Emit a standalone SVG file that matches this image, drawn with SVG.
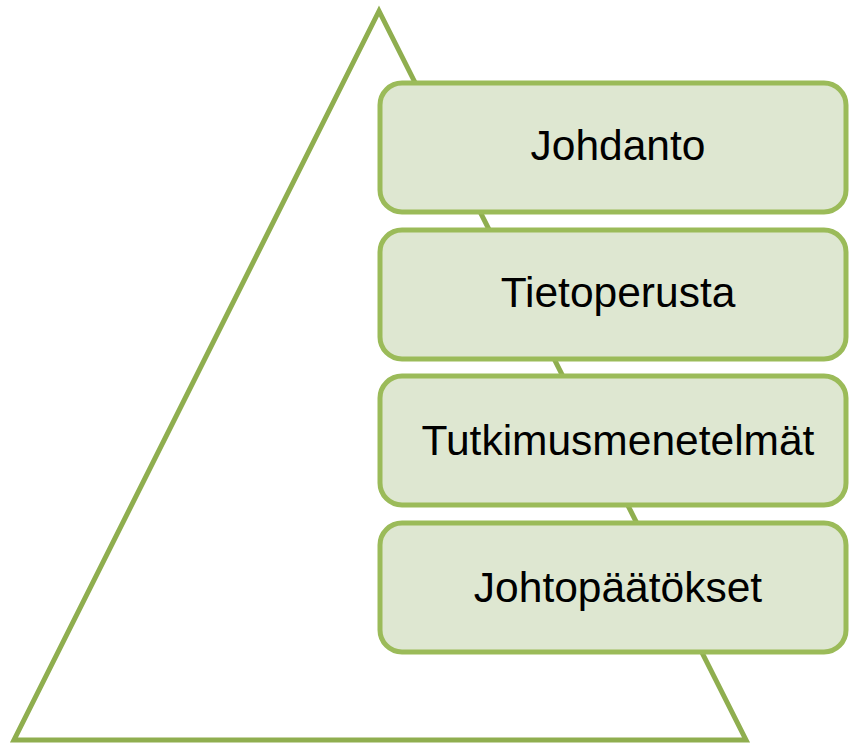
<svg xmlns="http://www.w3.org/2000/svg" width="849" height="744" viewBox="0 0 849 744">
  <style>
    .tri { fill: none; stroke: #8fae4f; stroke-width: 5; stroke-linejoin: miter; }
    .box { fill: #dee7d1; stroke: #9bbb59; stroke-width: 5; }
    .label { font-family: "Liberation Sans", Arial, sans-serif; font-size: 42.5px; fill: #000; text-anchor: middle; }
  </style>
  <rect width="849" height="744" fill="#ffffff"/>
  <g id="pyramid">
    <polygon class="tri" points="379,11 14,740 746,740"/>
  </g>
  <g id="connectors"></g>
  <g id="johdanto">
    <rect class="box" x="380" y="83" width="466" height="129" rx="22"/>
    <text class="label" x="618" y="160">Johdanto</text>
  </g>
  <g id="tietoperusta">
    <rect class="box" x="380" y="230" width="466" height="129" rx="22"/>
    <text class="label" x="618" y="307">Tietoperusta</text>
  </g>
  <g id="tutkimusmenetelmat">
    <rect class="box" x="380" y="376" width="466" height="129" rx="22"/>
    <text class="label" x="618" y="455">Tutkimusmenetelmät</text>
  </g>
  <g id="johtopaatokset">
    <rect class="box" x="380" y="523" width="466" height="129" rx="22"/>
    <text class="label" x="618" y="602">Johtopäätökset</text>
  </g>
</svg>
